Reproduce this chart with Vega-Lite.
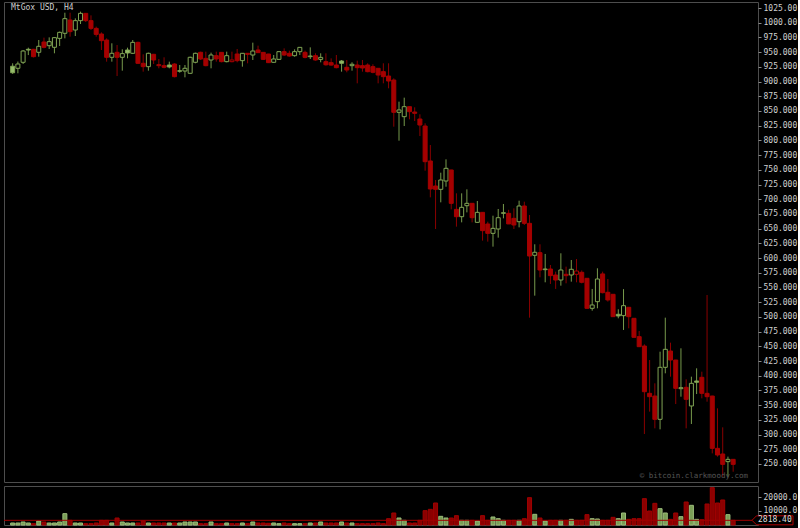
{
"$schema": "https://vega.github.io/schema/vega-lite/v6.json",
"background": "#000000",
"padding": {"left": 3, "top": 1, "right": 0, "bottom": 0},
"config": {"view": {"stroke": "#4d4d4d", "strokeWidth": 1}, "concat": {"spacing": 2}, "axisX": {"disable": true},
  "axis": {"labelOverlap": false, "labelBound": false, "labelFlush": false},
  "axisY": {"labelOverlap": false, "grid": false, "domain": false, "tickSize": 3, "tickColor": "#8a8a8a", "tickWidth": 1, "labelColor": "#d0d0d0", "labelFont": "DejaVu Sans Mono", "labelFontSize": 8, "labelPadding": 2, "title": null}},
"spacing": 2,
"datasets": {"k": [
{"i":0,"o":926,"h":931,"l":913,"c":915,"v":830},
{"i":1,"o":922.5,"h":934,"l":914,"c":929.8,"v":830},
{"i":2,"o":932.7,"h":953.6,"l":929.8,"c":951.9,"v":1570},
{"i":3,"o":954.8,"h":957.6,"l":945,"c":953.6,"v":830},
{"i":4,"o":954.8,"h":955.5,"l":941,"c":942.3,"v":330},
{"i":5,"o":949.7,"h":970.6,"l":942.3,"c":959.9,"v":2310},
{"i":6,"o":967.2,"h":974.6,"l":956.5,"c":958.2,"v":1570},
{"i":7,"o":961,"h":975.1,"l":955.3,"c":967.8,"v":830},
{"i":8,"o":958.2,"h":975.1,"l":948,"c":974.6,"v":830},
{"i":9,"o":973.4,"h":985,"l":960.4,"c":983.6,"v":1570},
{"i":10,"o":982,"h":1017,"l":973.4,"c":1006.9,"v":7800},
{"i":11,"o":1004.6,"h":1017,"l":976.3,"c":984.8,"v":2810},
{"i":12,"o":987.6,"h":1007.4,"l":977.4,"c":1003.5,"v":830},
{"i":13,"o":1003.5,"h":1018.8,"l":997.8,"c":1015.9,"v":830},
{"i":14,"o":1015.9,"h":1016.5,"l":1001.2,"c":1003.5,"v":330},
{"i":15,"o":1003.5,"h":1012.5,"l":987.6,"c":990.4,"v":330},
{"i":16,"o":990.4,"h":993.3,"l":976.3,"c":980.2,"v":830},
{"i":17,"o":980.8,"h":983.6,"l":953.6,"c":969.5,"v":2810},
{"i":18,"o":970.6,"h":973.4,"l":933.8,"c":941.2,"v":2810},
{"i":19,"o":941.2,"h":965,"l":933.8,"c":948,"v":830},
{"i":20,"o":949.7,"h":962.1,"l":909.4,"c":941.2,"v":4550},
{"i":21,"o":941.2,"h":954.8,"l":918.5,"c":947.5,"v":1570},
{"i":22,"o":953.6,"h":957.6,"l":939.5,"c":948.5,"v":830},
{"i":23,"o":948,"h":970.6,"l":946.8,"c":966.6,"v":830},
{"i":24,"o":966.6,"h":967.8,"l":929.8,"c":931,"v":830},
{"i":25,"o":931,"h":946.3,"l":916.8,"c":925.3,"v":2310},
{"i":26,"o":925.3,"h":949.1,"l":918.5,"c":948,"v":830},
{"i":27,"o":946.3,"h":947,"l":929.8,"c":936.6,"v":830},
{"i":28,"o":928.7,"h":938.3,"l":922.5,"c":927,"v":830},
{"i":29,"o":927,"h":941.2,"l":922.5,"c":924.2,"v":830},
{"i":30,"o":928.1,"h":933.8,"l":922.5,"c":924.8,"v":830},
{"i":31,"o":929.8,"h":931,"l":907.2,"c":908.3,"v":830},
{"i":32,"o":917.4,"h":928.1,"l":915.1,"c":918.5,"v":830},
{"i":33,"o":917.9,"h":928.1,"l":907.2,"c":922.5,"v":1570},
{"i":34,"o":914,"h":942.3,"l":912.8,"c":941.2,"v":1570},
{"i":35,"o":932.7,"h":949.1,"l":931,"c":948,"v":1570},
{"i":36,"o":949.7,"h":950.8,"l":936.6,"c":938.3,"v":330},
{"i":37,"o":939.4,"h":950.8,"l":926,"c":927,"v":330},
{"i":38,"o":936.6,"h":949.1,"l":922.5,"c":945.1,"v":1570},
{"i":39,"o":944,"h":950.8,"l":933.8,"c":938.3,"v":330},
{"i":40,"o":949.6,"h":950,"l":932.7,"c":933.8,"v":330},
{"i":41,"o":933.8,"h":950.8,"l":932.7,"c":944,"v":830},
{"i":42,"o":933.8,"h":950.8,"l":932.7,"c":936.6,"v":330},
{"i":43,"o":946.8,"h":955.3,"l":932.7,"c":935.5,"v":330},
{"i":44,"o":935.5,"h":948.5,"l":925.3,"c":948,"v":830},
{"i":45,"o":948,"h":948.5,"l":931,"c":946.3,"v":330},
{"i":46,"o":945.1,"h":966.1,"l":936.6,"c":951.9,"v":1570},
{"i":47,"o":953.6,"h":961,"l":948.5,"c":949.1,"v":830},
{"i":48,"o":949.6,"h":950,"l":936.6,"c":937.7,"v":830},
{"i":49,"o":946.8,"h":947,"l":931.5,"c":932.1,"v":600},
{"i":50,"o":932.7,"h":945.1,"l":932.1,"c":938.3,"v":830},
{"i":51,"o":937.7,"h":951.9,"l":936.6,"c":950.8,"v":330},
{"i":52,"o":950.8,"h":956.4,"l":943.4,"c":945.1,"v":830},
{"i":53,"o":948,"h":952.5,"l":942.3,"c":943.4,"v":330},
{"i":54,"o":944,"h":954.7,"l":942.3,"c":950.8,"v":330},
{"i":55,"o":950.8,"h":958.1,"l":945.1,"c":958.1,"v":330},
{"i":56,"o":949.6,"h":952.5,"l":939.4,"c":941.1,"v":330},
{"i":57,"o":942.3,"h":958.1,"l":938.3,"c":943.4,"v":830},
{"i":58,"o":944,"h":948,"l":935.5,"c":936.6,"v":830},
{"i":59,"o":937.7,"h":948,"l":932.7,"c":941.1,"v":1570},
{"i":60,"o":933.8,"h":948,"l":927,"c":928.5,"v":830},
{"i":61,"o":932.1,"h":939.4,"l":927,"c":928,"v":830},
{"i":62,"o":928.1,"h":945.1,"l":922.5,"c":923.6,"v":830},
{"i":63,"o":934.9,"h":936.6,"l":916.8,"c":931,"v":1570},
{"i":64,"o":924.2,"h":936.6,"l":915.7,"c":919.6,"v":830},
{"i":65,"o":927,"h":932.7,"l":918.5,"c":929.3,"v":830},
{"i":66,"o":928.1,"h":935.5,"l":897,"c":923.6,"v":330},
{"i":67,"o":927,"h":936.6,"l":916.8,"c":923,"v":330},
{"i":68,"o":928.1,"h":931,"l":915.7,"c":916.8,"v":330},
{"i":69,"o":925.3,"h":929.3,"l":914,"c":915.7,"v":330},
{"i":70,"o":922.5,"h":922.5,"l":897,"c":911.1,"v":830},
{"i":71,"o":916.8,"h":931,"l":897,"c":908.3,"v":330},
{"i":72,"o":909.4,"h":931,"l":888.5,"c":900.9,"v":4050},
{"i":73,"o":902.6,"h":905.4,"l":823.3,"c":847.7,"v":8290},
{"i":74,"o":847.7,"h":865.8,"l":799.5,"c":851.7,"v":4550},
{"i":75,"o":840.3,"h":872.6,"l":824.4,"c":857.3,"v":2810},
{"i":76,"o":857.3,"h":857.3,"l":835.8,"c":848.8,"v":830},
{"i":77,"o":848.2,"h":856.2,"l":832.9,"c":846,"v":830},
{"i":78,"o":836.3,"h":844.3,"l":807.4,"c":826.1,"v":2810},
{"i":79,"o":824.4,"h":829,"l":748.5,"c":763.8,"v":10030},
{"i":80,"o":765,"h":792.1,"l":703.2,"c":717.4,"v":11020},
{"i":81,"o":722.5,"h":732.7,"l":649.4,"c":716.8,"v":15750},
{"i":82,"o":716.8,"h":745.1,"l":694.7,"c":732.7,"v":5800},
{"i":83,"o":731,"h":767.8,"l":721.3,"c":752.5,"v":4550},
{"i":84,"o":749.7,"h":750,"l":682.8,"c":693,"v":4550},
{"i":85,"o":682.8,"h":710,"l":653.4,"c":670.3,"v":6300},
{"i":86,"o":670.3,"h":710,"l":660.7,"c":686.2,"v":2810},
{"i":87,"o":689,"h":716.8,"l":677.7,"c":693,"v":2810},
{"i":88,"o":693,"h":693.5,"l":660.7,"c":668.6,"v":2810},
{"i":89,"o":660.7,"h":697,"l":660,"c":677.7,"v":2310},
{"i":90,"o":677.7,"h":678,"l":629.6,"c":646.6,"v":6300},
{"i":91,"o":657.9,"h":661.8,"l":627.9,"c":642,"v":2810},
{"i":92,"o":642,"h":672,"l":619.4,"c":650.5,"v":5300},
{"i":93,"o":649.4,"h":683.4,"l":634.7,"c":668.6,"v":4050},
{"i":94,"o":676,"h":691.9,"l":667.5,"c":677.1,"v":2810},
{"i":95,"o":676,"h":682,"l":657.9,"c":658,"v":2810},
{"i":96,"o":667.5,"h":684.5,"l":649.4,"c":656.2,"v":2810},
{"i":97,"o":661.8,"h":697.5,"l":652.2,"c":688.5,"v":2810},
{"i":98,"o":688.5,"h":695.8,"l":656.2,"c":659,"v":4050},
{"i":99,"o":659,"h":673.2,"l":498.7,"c":603.5,"v":19730},
{"i":100,"o":604.7,"h":623.4,"l":536.1,"c":609.8,"v":7300},
{"i":101,"o":609.2,"h":623.4,"l":567.3,"c":579.7,"v":4550},
{"i":102,"o":580.3,"h":607,"l":558.8,"c":581.4,"v":2310},
{"i":103,"o":581.4,"h":588.2,"l":556,"c":570.1,"v":2810},
{"i":104,"o":571.2,"h":576.9,"l":547.5,"c":562.7,"v":2810},
{"i":105,"o":562.7,"h":608.1,"l":553.1,"c":579.7,"v":2810},
{"i":106,"o":572.4,"h":585.4,"l":557.1,"c":570.1,"v":2810},
{"i":107,"o":571.2,"h":596.7,"l":559.9,"c":580.9,"v":3550},
{"i":108,"o":572.4,"h":598.4,"l":558.8,"c":578,"v":2810},
{"i":109,"o":575.8,"h":579,"l":557,"c":558.8,"v":2810},
{"i":110,"o":565.6,"h":565.6,"l":514,"c":514.6,"v":7050},
{"i":111,"o":514.6,"h":547.5,"l":510.6,"c":520.3,"v":4050},
{"i":112,"o":525.9,"h":582.6,"l":514.6,"c":564.4,"v":3800},
{"i":113,"o":573,"h":576.9,"l":540,"c":541.2,"v":2810},
{"i":114,"o":541.8,"h":564.4,"l":526,"c":528.8,"v":2810},
{"i":115,"o":538.4,"h":538.4,"l":500,"c":500.4,"v":5050},
{"i":116,"o":504.4,"h":512.9,"l":497.6,"c":501.6,"v":4050},
{"i":117,"o":502.1,"h":547.2,"l":477.8,"c":519.1,"v":8290},
{"i":118,"o":516.3,"h":516.3,"l":480.6,"c":500.4,"v":3550},
{"i":119,"o":497.6,"h":497.6,"l":465,"c":465.3,"v":4050},
{"i":120,"o":466.4,"h":476,"l":449,"c":449.4,"v":4050},
{"i":121,"o":450.5,"h":453.4,"l":301,"c":372.9,"v":18980},
{"i":122,"o":370.1,"h":426.7,"l":339,"c":364.4,"v":9780},
{"i":123,"o":365.5,"h":387.1,"l":310.6,"c":325.9,"v":15500},
{"i":124,"o":325.9,"h":440.9,"l":308.9,"c":414.3,"v":11520},
{"i":125,"o":414.3,"h":498.7,"l":404.1,"c":444.9,"v":8290},
{"i":126,"o":442,"h":456.2,"l":398.4,"c":426.7,"v":3550},
{"i":127,"o":426.7,"h":427,"l":351.9,"c":378.6,"v":8290},
{"i":128,"o":378,"h":446.6,"l":364.4,"c":379.7,"v":5550},
{"i":129,"o":380.3,"h":393.9,"l":310.6,"c":359.9,"v":16500},
{"i":130,"o":348.6,"h":398.4,"l":318,"c":387.1,"v":14010},
{"i":131,"o":391.1,"h":412.6,"l":368.9,"c":388.9,"v":3550},
{"i":132,"o":397.3,"h":406.9,"l":361.6,"c":370.1,"v":3300},
{"i":133,"o":370.1,"h":537.2,"l":355.9,"c":364.4,"v":15000},
{"i":134,"o":365.5,"h":366,"l":268.1,"c":276.6,"v":27200},
{"i":135,"o":276.6,"h":344.6,"l":262.5,"c":265.3,"v":15750},
{"i":136,"o":267,"h":312.3,"l":228.5,"c":249.4,"v":18000},
{"i":137,"o":254,"h":262.5,"l":228.5,"c":257.9,"v":7050},
{"i":138,"o":257.9,"h":258,"l":236.9,"c":249.4,"v":2818.4}
]},
"vconcat": [
{
 "width": 754, "height": 480,
 "data": {"name": "k"},
 "transform": [
  {"window": [{"op": "lag", "field": "c", "as": "pc"}], "sort": [{"field": "i", "order": "ascending"}]},
  {"calculate": "(datum.pc == null || datum.c >= datum.pc) ? 1 : 0", "as": "up"}
 ],
 "layer": [
  {"mark": {"type": "rule", "strokeWidth": 1},
   "encoding": {
    "x": {"field": "i", "type": "quantitative", "scale": {"domain": [-0.7, 141.8], "nice": false, "zero": false}, "axis": null},
    "y": {"field": "l", "type": "quantitative", "title": null, "scale": {"domain": [219.4, 1035.2], "nice": false, "zero": false},
      "axis": {"orient": "right", "values": [250,275,300,325,350,375,400,425,450,475,500,525,550,575,600,625,650,675,700,725,750,775,800,825,850,875,900,925,950,975,1000,1025], "format": ".6r", "labelOverlap": false}},
    "y2": {"field": "h"},
    "color": {"condition": {"test": "datum.up == 1", "value": "#779a4c"}, "value": "#8a0000"}
   }},
  {"mark": {"type": "bar", "width": 4, "strokeWidth": 1},
   "encoding": {
    "x": {"field": "i", "type": "quantitative", "axis": null},
    "y": {"field": "o", "type": "quantitative", "title": null,
      "axis": {"orient": "right", "values": [250,275,300,325,350,375,400,425,450,475,500,525,550,575,600,625,650,675,700,725,750,775,800,825,850,875,900,925,950,975,1000,1025], "format": ".6r", "labelOverlap": false}},
    "y2": {"field": "c"},
    "stroke": {"condition": {"test": "datum.up == 1", "value": "#80a454"}, "value": "#a50000"},
    "fill": {"condition": [{"test": "datum.c > datum.o", "value": "#000000"}, {"test": "datum.up == 1", "value": "#95bc6b"}], "value": "#a50000"}
   }},
  {"data": {"values": [{}]},
   "mark": {"type": "text", "text": "MtGox USD, H4", "align": "left", "baseline": "top", "dx": 2, "dy": 2, "font": "DejaVu Sans Mono", "fontSize": 8, "fill": "#cfcfcf"},
   "encoding": {"x": {"datum": -0.7, "axis": null}, "y": {"datum": 1035.2,
      "axis": {"orient": "right", "values": [250,275,300,325,350,375,400,425,450,475,500,525,550,575,600,625,650,675,700,725,750,775,800,825,850,875,900,925,950,975,1000,1025], "format": ".6r", "labelOverlap": false}}}},
  {"data": {"values": [{}]},
   "mark": {"type": "text", "text": "© bitcoin.clarkmoody.com", "align": "right", "baseline": "alphabetic", "dx": -5, "dy": -4, "font": "DejaVu Sans Mono", "fontSize": 7.5, "fill": "#555555"},
   "encoding": {"x": {"datum": 141.8, "axis": null}, "y": {"datum": 219.4,
      "axis": {"orient": "right", "values": [250,275,300,325,350,375,400,425,450,475,500,525,550,575,600,625,650,675,700,725,750,775,800,825,850,875,900,925,950,975,1000,1025], "format": ".6r", "labelOverlap": false}}}}
 ]
},
{
 "width": 754, "height": 39,
 "data": {"name": "k"},
 "transform": [
  {"window": [{"op": "lag", "field": "c", "as": "pc"}], "sort": [{"field": "i", "order": "ascending"}]},
  {"calculate": "(datum.pc == null || datum.c >= datum.pc) ? 1 : 0", "as": "up"}
 ],
 "layer": [
  {"mark": {"type": "bar", "width": 4, "strokeWidth": 1},
   "encoding": {
    "x": {"field": "i", "type": "quantitative", "scale": {"domain": [-0.7, 141.8], "nice": false, "zero": false}, "axis": null},
    "y": {"field": "v", "type": "quantitative", "title": null, "scale": {"domain": [-670, 28430], "nice": false, "zero": false},
      "axis": {"orient": "right", "values": [10000, 20000], "format": ".6r", "labelOverlap": false}},
    "y2": {"datum": -670},
    "fill": {"condition": {"test": "datum.up == 1", "value": "#7a9e56"}, "value": "#8b0000"},
    "stroke": {"condition": {"test": "datum.up == 1", "value": "#9cbd7b"}, "value": "#a00000"}
   }},
  {"data": {"values": [{}]},
   "mark": {"type": "rule", "color": "#a00000", "strokeWidth": 1},
   "encoding": {"y": {"datum": 2818.4, "axis": {"orient": "right", "values": [10000, 20000], "format": ".6r", "labelOverlap": false}}}},
  {"data": {"values": [{}]},
   "mark": {"type": "point", "shape": "M-0.1,0L0.35,-0.45L4,-0.45L4,0.45L0.35,0.45Z", "size": 400, "filled": true, "fill": "#000000", "stroke": "#b00000", "strokeWidth": 1, "opacity": 1},
   "encoding": {"x": {"datum": 141.8, "axis": null}, "y": {"datum": 2818.4, "axis": {"orient": "right", "values": [10000, 20000], "format": ".6r", "labelOverlap": false}}}},
  {"data": {"values": [{}]},
   "mark": {"type": "text", "text": "2818.40", "align": "left", "baseline": "middle", "dx": 5, "font": "DejaVu Sans Mono", "fontSize": 8, "fill": "#dddddd"},
   "encoding": {"x": {"datum": 141.8, "axis": null}, "y": {"datum": 2818.4, "axis": {"orient": "right", "values": [10000, 20000], "format": ".6r", "labelOverlap": false}}}}
 ]
}
]
}
